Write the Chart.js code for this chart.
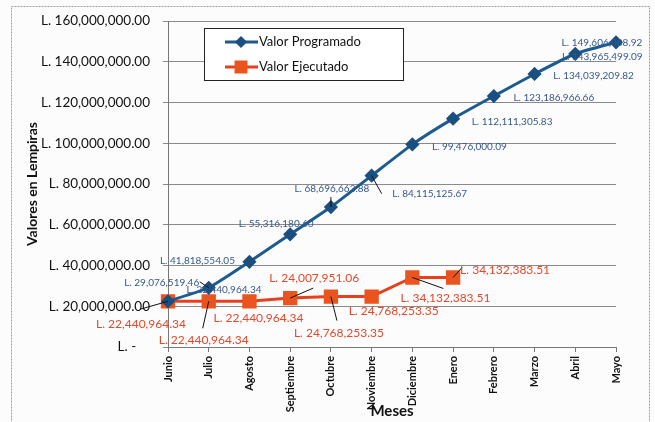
<!DOCTYPE html>
<html>
<head>
<meta charset="utf-8">
<script src="https://cdn.jsdelivr.net/npm/chart.js@4.4.1/dist/chart.umd.min.js"></script>
<style>
  html, body { margin: 0; padding: 0; background: #fff; }
</style>
</head>
<body>
<canvas id="myChart" width="655" height="422"></canvas>
<script>
// Datos
const meses = ["Junio", "Julio", "Agosto", "Septiembre", "Octubre", "Noviembre",
  "Diciembre", "Enero", "Febrero", "Marzo", "Abril", "Mayo"];
const valorProgramado = [22440964.34, 29076519.46, 41818554.05, 55316180.60, 68696663.88,
  84115125.67, 99476000.09, 112111305.83, 123186966.66, 134039209.82, 143965499.09, 149606088.92];
const valorEjecutado = [22440964.34, 22440964.34, 22440964.34, 24007951.06, 24768253.35,
  24768253.35, 34132383.51, 34132383.51];
const yTickValues = [0, 20000000, 40000000, 60000000, 80000000, 100000000, 120000000, 140000000, 160000000];

const FONT = "Lato, 'Open Sans', sans-serif";

function lempiras(v) {
  if (v === 0) return "L. -    ";
  return "L. " + v.toLocaleString("en-US", { minimumFractionDigits: 2, maximumFractionDigits: 2 });
}

// posicion de las etiquetas respecto al punto: [dx, dy, inicio guia x, inicio guia y]
const posEtiquetas = [
  [[56, -12], [-47, -5, -9, -6], [-52, -1], [-14, -11], [1, -18, 0, -10], [58, 18, 10, 18],
   [57, 2], [59, 3], [60, 2], [59, 2], [27, 3], [-14, 1]],
  [[-27, 23, -28, 8], [-5, 39, -6, 27], [9, 17], [24, -20, 23, -10], [8, 37, 6, 24],
   [22, 15], [33, 21, 31, 11], [52, -7, 9, -10]]
];

const fondo = {
  id: "fondo",
  beforeDraw(chart) {
    const ctx = chart.ctx;
    ctx.save();
    ctx.fillStyle = "#fcfcfd";
    ctx.fillRect(0, 0, chart.width, chart.height);
    ctx.strokeStyle = "#a0a0a0";
    ctx.lineWidth = 1;
    ctx.setLineDash([2, 1]);
    ctx.strokeRect(11.5, 6.5, 638, 430);
    ctx.restore();
  }
};

const etiquetas = {
  id: "etiquetas",
  afterDatasetsDraw(chart) {
    const ctx = chart.ctx;
    ctx.save();
    chart.data.datasets.forEach(function(ds, i) {
      const meta = chart.getDatasetMeta(i);
      meta.data.forEach(function(pt, j) {
        const p = posEtiquetas[i][j];
        if (!p) return;
        if (p.length > 2) {
          ctx.strokeStyle = "#111";
          ctx.lineWidth = 1;
          ctx.beginPath();
          ctx.moveTo(pt.x + p[2], pt.y + p[3]);
          ctx.lineTo(pt.x, pt.y);
          ctx.stroke();
        }
        ctx.font = i === 0 ? "10px " + FONT : "12px " + FONT;
        ctx.fillStyle = i === 0 ? "#35598a" : "#e5482a";
        ctx.textAlign = "center";
        ctx.textBaseline = "middle";
        ctx.fillText(lempiras(ds.data[j]), pt.x + p[0], pt.y + p[1]);
      });
    });
    ctx.restore();
  }
};

const leyenda = {
  id: "leyenda",
  afterDraw(chart) {
    const ctx = chart.ctx;
    ctx.save();
    ctx.fillStyle = "#fff";
    ctx.fillRect(204, 28, 199, 52);
    ctx.strokeStyle = "#222";
    ctx.lineWidth = 1;
    ctx.strokeRect(204.5, 28.5, 199, 52);
    chart.data.datasets.forEach(function(ds, i) {
      const y = 42 + i * 25;
      ctx.strokeStyle = ds.borderColor;
      ctx.lineWidth = 3;
      ctx.beginPath();
      ctx.moveTo(225, y);
      ctx.lineTo(258, y);
      ctx.stroke();
      ctx.fillStyle = ds.pointBackgroundColor;
      ctx.strokeStyle = ds.pointBackgroundColor;
      Chart.helpers.drawPoint(ctx, { pointStyle: ds.pointStyle, radius: ds.pointRadius - 1, borderWidth: 1, rotation: 0 }, 241, y);
      ctx.fillStyle = "#111";
      ctx.font = "13px " + FONT;
      ctx.textAlign = "left";
      ctx.textBaseline = "middle";
      ctx.fillText(ds.label, 259, y);
    });
    ctx.restore();
  }
};

var ctx = document.getElementById("myChart").getContext("2d");
var myChart = new Chart(ctx, {
  type: "line",
  data: {
    labels: meses,
    datasets: [
      {
        label: "Valor Programado",
        data: valorProgramado,
        borderColor: "#1d5b8f",
        borderWidth: 3,
        pointStyle: "rectRot",
        pointRadius: 5,
        pointBackgroundColor: "#1a4f80",
        pointBorderColor: "#1a4f80",
        tension: 0.15,
        fill: false
      },
      {
        label: "Valor Ejecutado",
        data: valorEjecutado,
        borderColor: "#e8401c",
        borderWidth: 3,
        pointStyle: "rect",
        pointRadius: 8,
        pointBackgroundColor: "#e9541f",
        pointBorderColor: "#e9541f",
        tension: 0,
        fill: false
      }
    ]
  },
  options: {
    responsive: false,
    animation: false,
    layout: { padding: { left: 20, right: 39, top: 15, bottom: 0 } },
    plugins: { legend: { display: false }, tooltip: { enabled: false } },
    scales: {
      x: {
        offset: false,
        afterFit: function(scale) { scale.height = 75; },
        grid: { drawOnChartArea: false, drawTicks: true, tickLength: 5, color: "#777" },
        border: { color: "#777" },
        ticks: {
          minRotation: 90, maxRotation: 90, padding: 4, autoSkip: false,
          color: "#111", font: { family: FONT, size: 11, weight: "bold" }
        },
        title: {
          display: true, text: "Meses", color: "#111",
          font: { family: FONT, size: 15, weight: "bold" },
          padding: { top: 0, bottom: 2 }
        }
      },
      y: {
        min: 0,
        max: 160000000,
        afterFit: function(scale) { scale.width = 148; },
        afterBuildTicks: function(scale) { scale.ticks = yTickValues.map(function(v) { return { value: v }; }); },
        grid: { color: "#8a8a8a", tickLength: 5 },
        border: { color: "#777" },
        ticks: {
          padding: 13, color: "#111",
          font: { family: FONT, size: 13.5 },
          callback: function(v) { return lempiras(v); }
        },
        title: {
          display: true, text: "Valores en Lempiras", color: "#111",
          font: { family: FONT, size: 14, weight: "bold" },
          padding: { top: 4, bottom: 0 }
        }
      }
    }
  },
  plugins: [fondo, etiquetas, leyenda]
});
</script>
</body>
</html>
